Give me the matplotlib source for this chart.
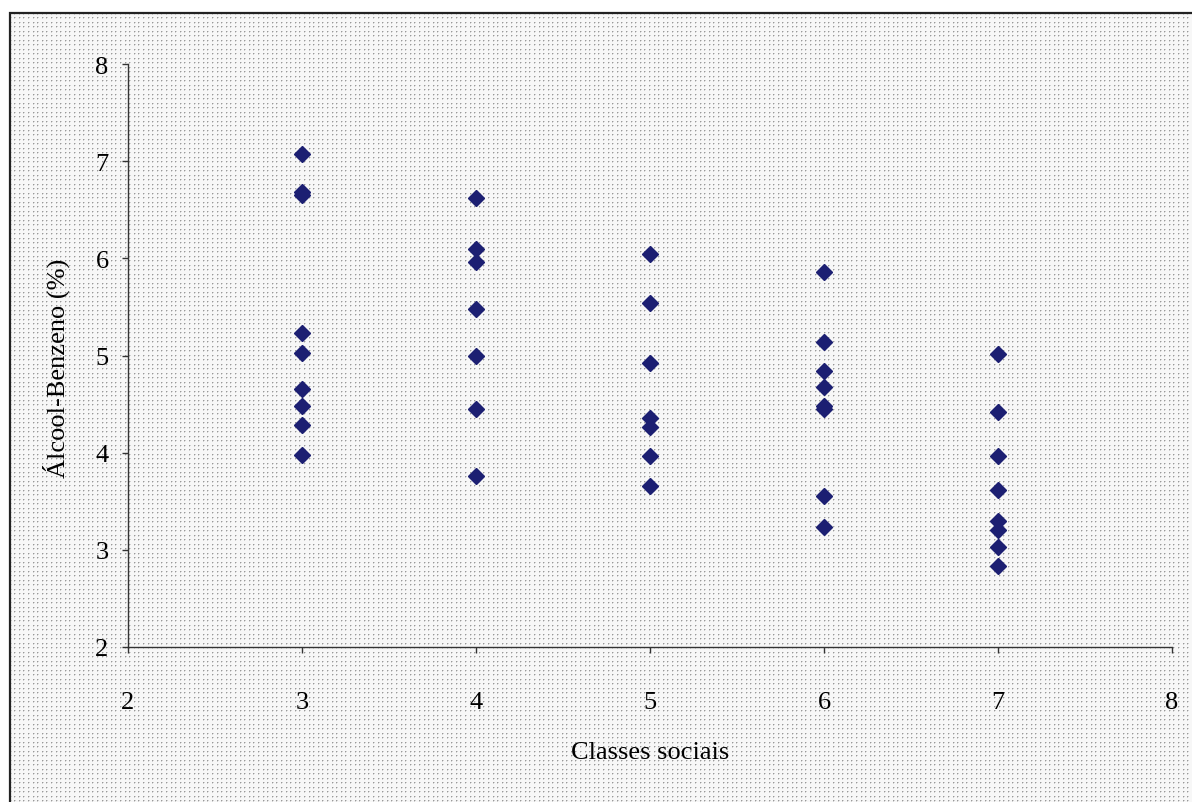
import numpy as np
import matplotlib.pyplot as plt
from matplotlib.patches import Rectangle

# Álcool-Benzeno (%) por classe social
classe_3 = [7.07, 6.68, 6.65, 5.23, 5.03, 4.66, 4.48, 4.28, 3.98]
classe_4 = [6.62, 6.10, 5.96, 5.48, 4.99, 4.45, 3.76]
classe_5 = [6.04, 5.54, 4.92, 4.36, 4.26, 3.97, 3.66]
classe_6 = [5.86, 5.14, 4.84, 4.68, 4.48, 4.45, 3.55, 3.24]
classe_7 = [5.02, 4.42, 3.97, 3.62, 3.30, 3.20, 3.03, 2.83]

classes = [3, 4, 5, 6, 7]
valores = [classe_3, classe_4, classe_5, classe_6, classe_7]

plt.rcParams['font.family'] = ['Liberation Serif', 'DejaVu Serif']

W, H = 1192, 803
fig = plt.figure(figsize=(W / 100, H / 100), dpi=100)

# fundo pontilhado cinza tipo Excel
rows = np.arange(H)
cols = np.arange(W)
row_dot = np.floor(rows / 4.5) != np.floor((rows - 1) / 4.5)
col_dot = np.floor(cols / 4.6) != np.floor((cols - 1) / 4.6)
row_near = np.roll(row_dot, 1)
col_near = np.roll(col_dot, 1)
bg = np.full((H, W), 0.97)
bg[row_near[:, None] & col_dot[None, :]] = 0.82
bg[row_dot[:, None] & col_near[None, :]] = 0.82
bg[row_dot[:, None] & col_dot[None, :]] = 0.6
bg[:14, :] = 1.0
bg[:, :10] = 1.0
bg = np.dstack([bg, bg, bg])
fig.figimage(bg, xo=0, yo=0, origin='upper', zorder=-10)

# moldura da área do gráfico
fig.patches.append(Rectangle((10 / W, -0.1), 1.2, 1.1 - 14 / H, transform=fig.transFigure,
                             fill=False, edgecolor='#222222', linewidth=1.6, zorder=-5))

ax = fig.add_axes([128 / W, 1 - 648 / H, (1172 - 128) / W, (648 - 65) / H])
ax.set_zorder(2)
ax.patch.set_visible(False)

for x, ys in zip(classes, valores):
    ax.plot([x] * len(ys), ys, linestyle='none', marker='D', markersize=8,
            color='#1c1f72', markeredgecolor='#1c1f72')

ax.set_xlim(2, 8)
ax.set_ylim(2, 8)
ax.set_xticks(range(2, 9))
ax.set_yticks(range(2, 9))
for s in ['top', 'right']:
    ax.spines[s].set_visible(False)
for s in ['left', 'bottom']:
    ax.spines[s].set_color('#333333')
    ax.spines[s].set_linewidth(1.0)
ax.tick_params(axis='both', direction='out', length=4, width=1, color='#333333',
               labelsize=19)
ax.tick_params(axis='x', pad=28)
ax.tick_params(axis='y', pad=10)

ax.set_xlabel('Classes sociais', fontsize=19)
ax.set_ylabel('Álcool-Benzeno (%)', fontsize=19)
ax.xaxis.set_label_coords(0.5, -0.162)
ax.yaxis.set_label_coords(-0.056, 0.48)

fig.savefig('out.png', dpi=100)
